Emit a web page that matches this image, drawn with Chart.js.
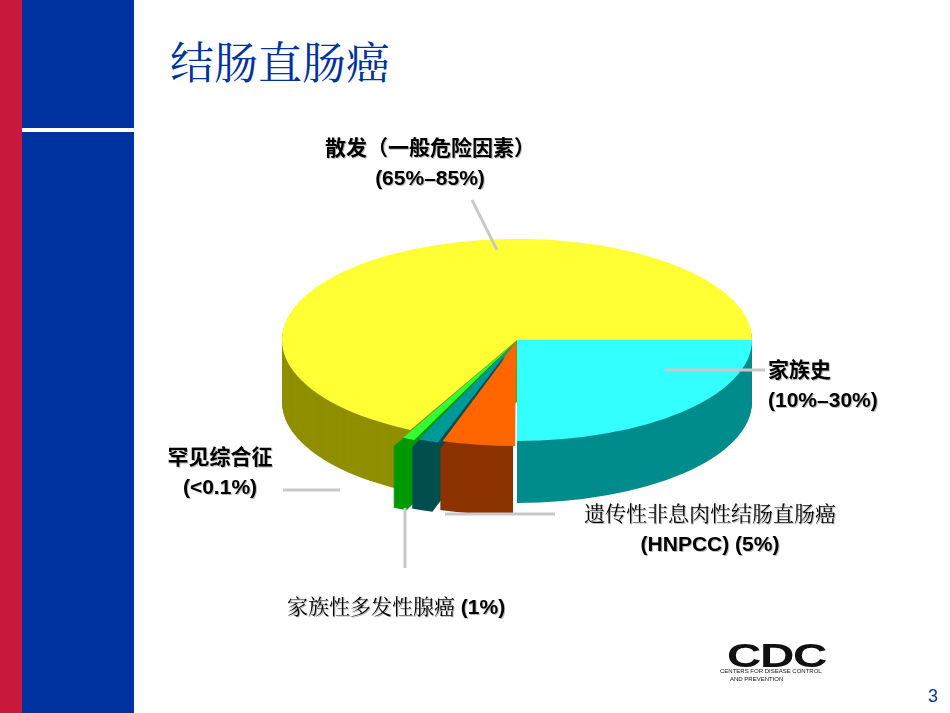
<!DOCTYPE html>
<html><head><meta charset="utf-8">
<script src="https://cdn.jsdelivr.net/npm/chart.js@4/dist/chart.umd.min.js"></script>
<style>
body{margin:0;width:950px;height:713px;position:relative;overflow:hidden;background:#fff;font-family:"Noto Sans CJK SC",sans-serif}
.a{position:absolute}
.lab{position:absolute;font-family:Arial,"Liberation Sans","Noto Sans CJK SC",sans-serif;font-weight:bold;font-size:21px;text-align:center;line-height:30px;color:#000;text-shadow:1px 1px 0 #bbb}
.ln{position:absolute;background:#c8c8c8}
</style></head><body>
<div class="a" style="left:0;top:0;width:22px;height:713px;background:#c8183c"></div>
<div class="a" style="left:22px;top:0;width:112px;height:713px;background:#0033a0"></div>
<div class="a" style="left:22px;top:128px;width:112px;height:4px;background:#fff"></div>
<div class="a" style="left:170px;top:28px;font-size:44px;color:#0033a0;font-family:'Noto Serif CJK SC','Noto Sans CJK SC'">结肠直肠癌</div>
<canvas id="c" class="a" style="left:257px;top:80px" width="520" height="520"></canvas>
<svg class="a" style="left:0;top:0" width="950" height="713">
 <g stroke="#c8c8c8" stroke-width="3">
  <line x1="472" y1="200" x2="497" y2="250"/>
  <line x1="665" y1="370" x2="765" y2="370"/>
  <line x1="445" y1="514" x2="555" y2="514"/>
  <line x1="405" y1="508" x2="405" y2="568"/>
  <line x1="283" y1="490" x2="340" y2="490"/>
 </g>
</svg>
<div class="lab" style="left:300px;top:133px;width:260px">散发（一般危险因素）<br>(65%–85%)</div>
<div class="lab" style="left:768px;top:355px;text-align:left">家族史<br>(10%–30%)</div>
<div class="lab" style="left:560px;top:497px;width:300px"><span style="font-weight:normal;font-family:'Noto Serif CJK SC','Noto Sans CJK SC'">遗传性非息肉性结肠直肠癌</span><br>(HNPCC) (5%)</div>
<div class="lab" style="left:287px;top:590px;text-align:left"><span style="font-weight:normal;font-family:'Noto Serif CJK SC','Noto Sans CJK SC'">家族性多发性腺癌</span> (1%)</div>
<div class="lab" style="left:150px;top:442px;width:140px">罕见综合征<br>(&lt;0.1%)</div>
<div class="a" style="left:727px;top:636px;font:bold 34px Arial;color:#111;letter-spacing:-1px;transform:scaleX(1.4);transform-origin:left">CDC</div>
<div class="a" style="left:720px;top:667px;font:6px Arial;color:#111;line-height:8px">CENTERS FOR DISEASE CONTROL<br>&nbsp;&nbsp;&nbsp;&nbsp;&nbsp;&nbsp;AND PREVENTION</div>
<div class="a" style="left:928px;top:686px;font:18px Arial;color:#0033a0">3</div>
<script>
const categories = ["家族史", "HNPCC", "家族性多发性腺癌", "罕见综合征", "散发"];
const values = [25, 5, 1.5, 1, 67.5];
const topColors = ["#33ffff", "#ff6600", "#009999", "#33ff33", "#ffff33"];
const sideColors = ["#008c8c", "#8b3300", "#004f4f", "#009900", "#8f8f00"];
const offsets = [0, 28, 34, 40, 0];

const SY = 0.43, DEPTH = 62;
const tilt = {
  id: "tilt",
  beforeDatasetsDraw(chart) {
    const ctx = chart.ctx;
    const arcs = chart.getDatasetMeta(0).data;
    const cx = arcs[0].x, cy = arcs[0].y;
    ctx.save();
    ctx.translate(cx, cy); ctx.scale(1, SY); ctx.translate(-cx, -cy);
    for (let d = DEPTH; d > 0; d -= 1) {
      arcs.forEach((a, i) => {
        const mid = (a.startAngle + a.endAngle) / 2;
        const o = offsets[i];
        const x = a.x + Math.cos(mid) * o, y = a.y + Math.sin(mid) * o + d / SY;
        ctx.beginPath();
        ctx.moveTo(x, y);
        ctx.arc(x, y, a.outerRadius, a.startAngle, a.endAngle);
        ctx.closePath();
        ctx.fillStyle = sideColors[i];
        ctx.fill();
      });
    }
  },
  afterDatasetsDraw(chart) { chart.ctx.restore(); }
};

new Chart(document.getElementById("c"), {
  type: "pie",
  data: { labels: categories, datasets: [{ data: values, backgroundColor: topColors, borderWidth: 0, offset: offsets }] },
  options: {
    responsive: false, animation: false, rotation: 90, radius: 235,
    layout: { padding: 0 },
    plugins: { legend: { display: false }, tooltip: { enabled: false } }
  },
  plugins: [tilt]
});
</script>
</body></html>
